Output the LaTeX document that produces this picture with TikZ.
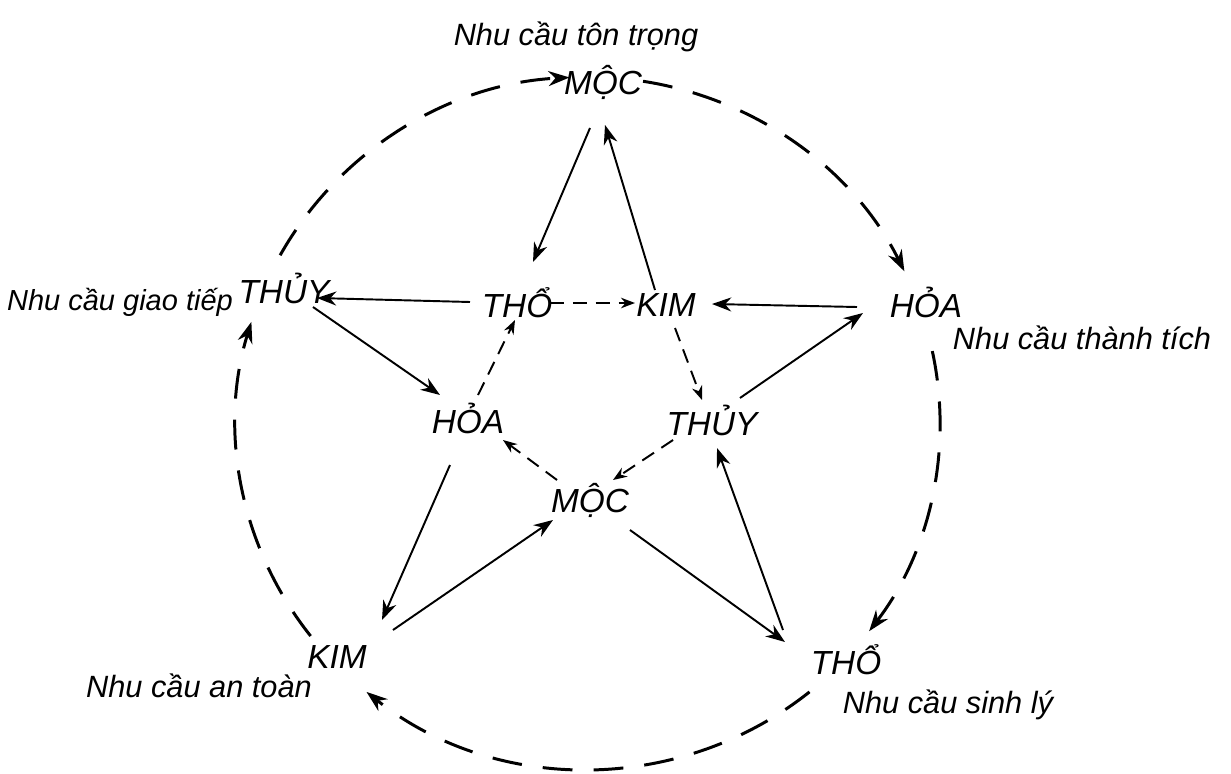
\documentclass[tikz,border=0pt]{standalone}
\usepackage{fontspec}
\setmainfont{Liberation Sans}
\usetikzlibrary{arrows.meta,calc}
\begin{document}
\begin{tikzpicture}[x=0.02cm,y=-0.02cm,
  elem/.style={font=\fontsize{19}{21}\selectfont\itshape, inner sep=0pt},
  need/.style={font=\fontsize{17.5}{20}\selectfont\itshape, inner sep=0pt},
  tip/.style={-{Stealth[length=11pt,width=8pt]}},
  sarr/.style={tip, line width=1.1pt},
  darr/.style={-{Stealth[length=8pt,width=6pt]}, line width=1.1pt, dash pattern=on 8pt off 5pt},
  circ/.style={-{Stealth[length=12pt,width=8.5pt]}, line width=1.7pt, dash pattern=on 17pt off 12pt}]
\fill[white] (0,0) rectangle (1231,774);
\useasboundingbox (0,0) rectangle (1231,774);
\coordinate (ctr) at (588,423);
% outer elements
\node[elem] (oMoc)  at (603,82)  {MỘC};
\node[elem] (oHoa)  at (926,302) {HỎA};
\node[elem] (oTho)  at (846,660) {THỔ};
\node[elem] (oKim)  at (337,657) {KIM};
\node[elem] (oThuy) at (284,288) {THỦY};
% inner elements
\node[elem] (iTho)  at (517,303) {THỔ};
\node[elem] (iKim)  at (666,305) {KIM};
\node[elem] (iThuy) at (712,420) {THỦY};
\node[elem] (iMoc)  at (590,500) {MỘC};
\node[elem] (iHoa)  at (468,418) {HỎA};
% needs
\node[need] (nTon)  at (576,37)  {Nhu cầu tôn trọng};
\node[need, font=\fontsize{16.5}{20}\selectfont\itshape] (nGiao) at (120,302) {Nhu cầu giao tiếp};
\node[need] (nThanh) at (1082,338) {Nhu cầu thành tích};
\node[need] (nAn)   at (199,686) {Nhu cầu an toàn};
\node[need] (nSinh) at (948,705) {Nhu cầu sinh lý};
% outer dashed circle arcs
\draw[circ] (ctr) ++(-151:352 and 346) arc[start angle=-151,end angle=-93,x radius=352,y radius=346];
\draw[circ] (ctr) ++(-81:352 and 346) arc[start angle=-81,end angle=-26,x radius=352,y radius=346];
\draw[circ] (ctr) ++(-12:352 and 346) arc[start angle=-12,end angle=37,x radius=352,y radius=346];
\draw[circ] (ctr) ++(51:352 and 346) arc[start angle=51,end angle=129,x radius=352,y radius=346];
\draw[circ] (ctr) ++(142:352 and 346) arc[start angle=142,end angle=197,x radius=352,y radius=346];
% solid star
\draw[sarr] ($(oMoc)+(-13,46)$) -- ($(iTho)+(16,-41)$);
\draw[sarr] ($(iKim)+(-11,-15)$) -- ($(oMoc)+(2,43)$);
\draw[sarr] ($(oHoa)+(-69,5)$) -- ($(iKim)+(46,-1)$);
\draw[sarr] ($(iThuy)+(28,-22)$) -- ($(oHoa)+(-63,11)$);
\draw[sarr] ($(iTho)+(-47,-1)$) -- ($(oThuy)+(33,10)$);
\draw[sarr] ($(oThuy)+(29,19)$) -- ($(iHoa)+(-28,-23)$);
\draw[sarr] ($(iHoa)+(-18,47)$) -- ($(oKim)+(45,-37)$);
\draw[sarr] ($(oKim)+(56,-27)$) -- ($(iMoc)+(-37,20)$);
\draw[sarr] ($(iMoc)+(40,30)$) -- ($(oTho)+(-61,-18)$);
\draw[sarr] ($(oTho)+(-63,-30)$) -- ($(iThuy)+(5,28)$);
% dashed inner pentagon
\draw[darr] ($(iTho)+(33,0)$) -- ($(iKim)+(-31,-2)$);
\draw[darr] ($(iKim)+(9,23)$) -- ($(iThuy)+(-10,-20)$);
\draw[darr] ($(iThuy)+(-39,20)$) -- ($(iMoc)+(23,-20)$);
\draw[darr] ($(iMoc)+(-33,-20)$) -- ($(iHoa)+(35,22)$);
\draw[darr] ($(iHoa)+(10,-23)$) -- ($(iTho)+(-2,17)$);
\end{tikzpicture}
\end{document}
